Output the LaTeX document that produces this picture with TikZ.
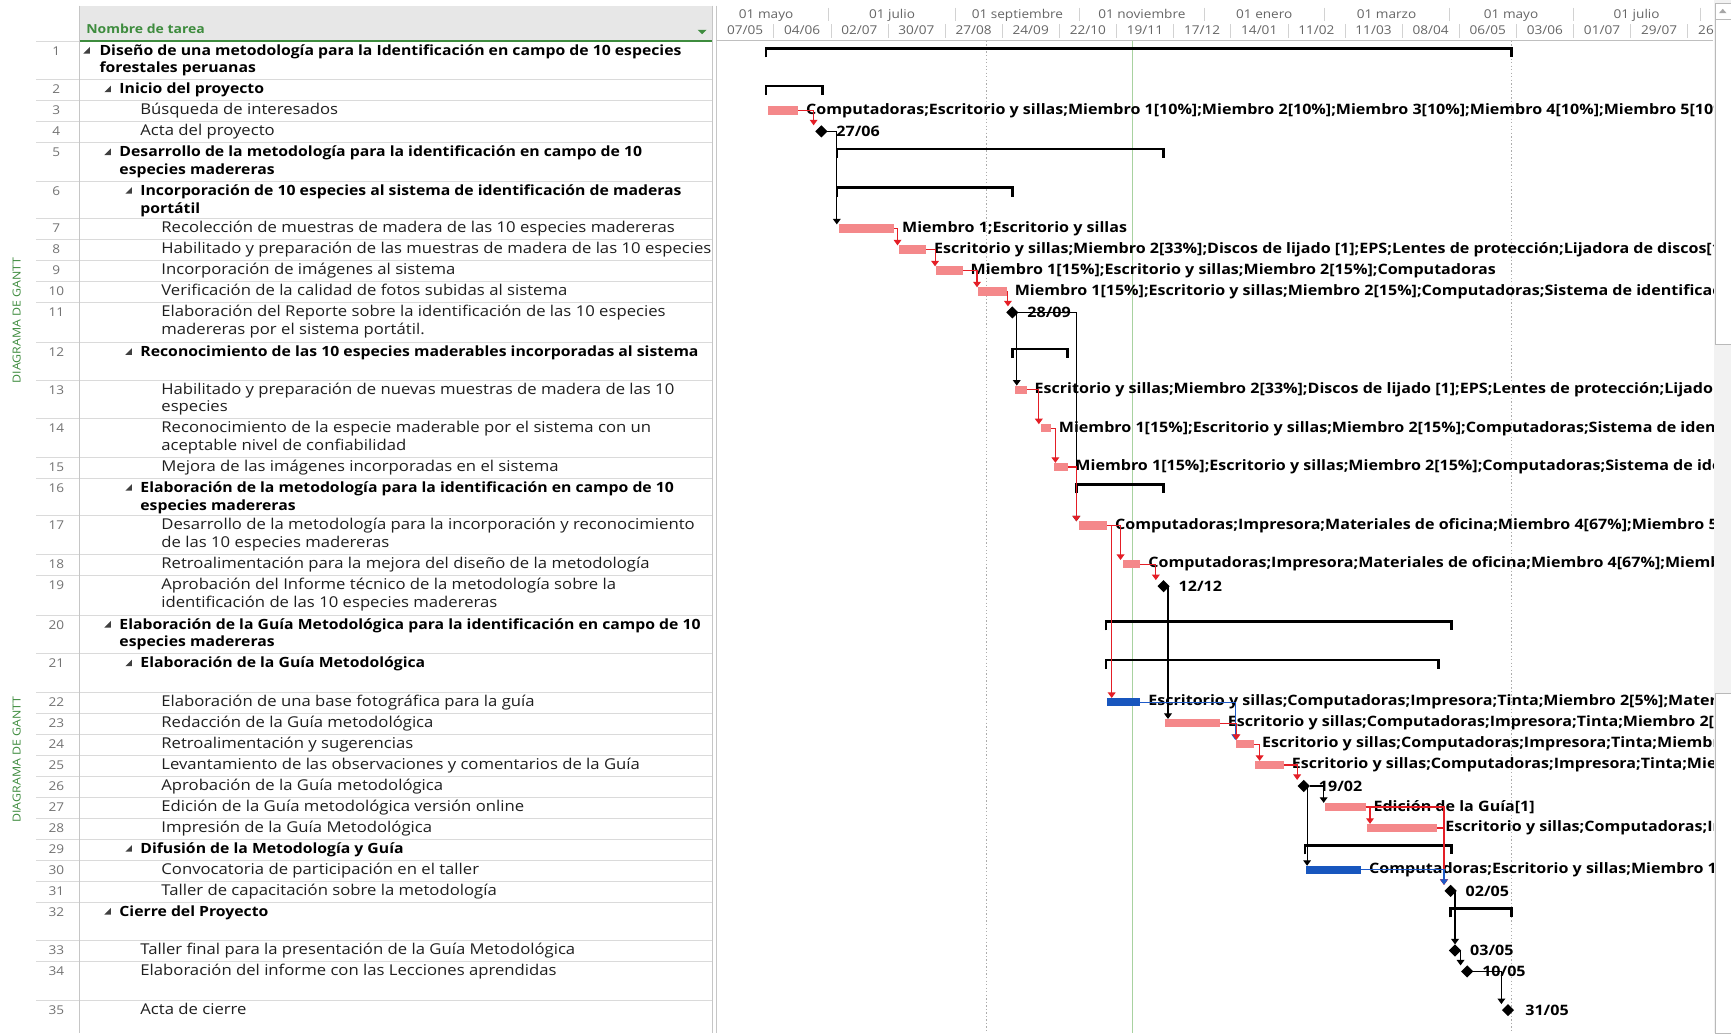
\documentclass[tikz,border=0pt]{standalone}
\usepackage{fontspec}
\setmainfont{Open Sans}[FakeStretch=1.12]
\usetikzlibrary{shapes.geometric,arrows.meta,positioning}
\definecolor{barpink}{RGB}{244,136,138}
\definecolor{barblue}{RGB}{24,86,190}
\definecolor{linkred}{RGB}{228,30,38}
\definecolor{linkblue}{RGB}{30,90,200}
\definecolor{gridgray}{RGB}{218,218,218}
\definecolor{hdrgray}{RGB}{231,231,231}
\definecolor{msgreen}{RGB}{62,140,62}
\definecolor{todaygreen}{RGB}{168,210,160}
\newcommand\two[2]{\vtop{\hbox{#1}\hbox{#2}}}
\newcommand\tri[2]{\fill[black!75] (#1-3.5,#2+2.5) -- (#1+2.5,#2+2.5) -- (#1+2.5,#2-3.5) -- cycle;}
\newcommand\brk[1]{\draw[brkline] ([yshift=-8pt]#1.north west) |- (#1.north east) -- ([yshift=-8pt]#1.north east);}
\begin{document}
\begin{tikzpicture}[x=1pt,y=-1pt,
  tbl/.style={font=\fontsize{13.5}{16}\selectfont, anchor=base west, inner sep=0, text=black!88},
  tblb/.style={font=\fontsize{12.75}{16}\selectfont\bfseries, anchor=base west, inner sep=0, text=black},
  num/.style={font=\fontsize{11}{13}\selectfont, text=black!55, anchor=base, inner sep=0},
  hdr/.style={font=\fontsize{11}{13}\selectfont, text=black!60, anchor=base, inner sep=0},
  bar/.style={fill=barpink, minimum height=7.5pt, inner sep=0, outer sep=0, anchor=west},
  bbar/.style={bar, fill=barblue},
  ms/.style={diamond, fill=black, inner sep=0, outer sep=0, minimum width=11pt, minimum height=11pt},
  glbl/.style={font=\fontsize{13}{14}\selectfont\bfseries, inner sep=0, text=black},
  sumn/.style={inner sep=0, outer sep=0, minimum height=0pt, anchor=north west},
  brkline/.style={draw=black, line width=2.3pt},
  rlink/.style={draw=linkred, line width=1pt, -{Triangle[width=7pt,length=5pt]}},
  klink/.style={draw=black, line width=1pt, -{Triangle[width=7pt,length=5pt]}},
  blink/.style={draw=linkblue, line width=1pt, -{Triangle[width=7pt,length=5pt]}}
]
\useasboundingbox (0,0) rectangle (1568,936);
\fill[white] (0,0) rectangle (1568,936);

% ---------- table header ----------
\fill[hdrgray] (72,5) rectangle (645,36);
\node[font=\fontsize{11.3}{13}\selectfont\bfseries, text=msgreen, anchor=base west, inner sep=0] (hname) at (78,30) {Nombre de tarea};
\fill[msgreen] (632,27) -- (640,27) -- (636,31) -- cycle;

% ---------- grid ----------
\foreach \n/\t in {1/37,2/72,3/91,4/110,5/129,6/164,7/198,8/217,9/236,10/255,11/274,12/310,13/344,14/379,15/414,16/433,17/467,18/502,19/521,20/557,21/592,22/627,23/646,24/665,25/684,26/703,27/722,28/741,29/760,30/779,31/798,32/817,33/852,34/871,35/906} {
  \draw[gridgray] (33,\t) -- (645,\t);
  \node[num] (n\n) at (51,\t+13) {\n};
}
\draw[msgreen, line width=1.5pt] (72,37) -- (645,37);
\draw[gray!45] (72,5) -- (72,936);
\draw[gray!45] (645,5) -- (645,936);
\draw[gray!45] (649,5) -- (649,936);

% ---------- side labels ----------
\node[rotate=90, text=msgreen, font=\fontsize{10}{12}\selectfont, inner sep=0] (dg1) at (15,290) {DIAGRAMA DE GANTT};
\node[rotate=90, text=msgreen, font=\fontsize{10}{12}\selectfont, inner sep=0] (dg2) at (15,688) {DIAGRAMA DE GANTT};

% ---------- task names ----------
\tri{79}{46}\node[tblb] (r1) at (90,50) {\two{Diseño de una metodología para la Identificación en campo de 10 especies}{forestales peruanas}};
\tri{98}{81}\node[tblb] (r2) at (108,85) {Inicio del proyecto};
\node[tbl] (r3) at (127,104) {Búsqueda de interesados};
\node[tbl] (r4) at (127,123) {Acta del proyecto};
\tri{98}{138}\node[tblb] (r5) at (108,142) {\two{Desarrollo de la metodología para la identificación en campo de 10}{especies madereras}};
\tri{117}{173}\node[tblb] (r6) at (127,177) {\two{Incorporación de 10 especies al sistema de identificación de maderas}{portátil}};
\node[tbl] (r7) at (146,211) {Recolección de muestras de madera de las 10 especies madereras};
\node[tbl] (r8) at (146,230) {Habilitado y preparación de las muestras de madera de las 10 especies};
\node[tbl] (r9) at (146,249) {Incorporación de imágenes al sistema};
\node[tbl] (r10) at (146,268) {Verificación de la calidad de fotos subidas al sistema};
\node[tbl] (r11) at (146,287) {\two{Elaboración del Reporte sobre la identificación de las 10 especies}{madereras por el sistema portátil.}};
\tri{117}{319}\node[tblb] (r12) at (127,323) {Reconocimiento de las 10 especies maderables incorporadas al sistema};
\node[tbl] (r13) at (146,357) {\two{Habilitado y preparación de nuevas muestras de madera de las 10}{especies}};
\node[tbl] (r14) at (146,392) {\two{Reconocimiento de la especie maderable por el sistema con un}{aceptable nivel de confiabilidad}};
\node[tbl] (r15) at (146,427) {Mejora de las imágenes incorporadas en el sistema};
\tri{117}{442}\node[tblb] (r16) at (127,446) {\two{Elaboración de la metodología para la identificación en campo de 10}{especies madereras}};
\node[tbl] (r17) at (146,480) {\two{Desarrollo de la metodología para la incorporación y reconocimiento}{de las 10 especies madereras}};
\node[tbl] (r18) at (146,515) {Retroalimentación para la mejora del diseño de la metodología};
\node[tbl] (r19) at (146,534) {\two{Aprobación del Informe técnico de la metodología sobre la}{identificación de las 10 especies madereras}};
\tri{98}{566}\node[tblb] (r20) at (108,570) {\two{Elaboración de la Guía Metodológica para la identificación en campo de 10}{especies madereras}};
\tri{117}{601}\node[tblb] (r21) at (127,605) {Elaboración de la Guía Metodológica};
\node[tbl] (r22) at (146,640) {Elaboración de una base fotográfica para la guía};
\node[tbl] (r23) at (146,659) {Redacción de la Guía metodológica};
\node[tbl] (r24) at (146,678) {Retroalimentación y sugerencias};
\node[tbl] (r25) at (146,697) {Levantamiento de las observaciones y comentarios de la Guía};
\node[tbl] (r26) at (146,716) {Aprobación de la Guía metodológica};
\node[tbl] (r27) at (146,735) {Edición de la Guía metodológica versión online};
\node[tbl] (r28) at (146,754) {Impresión de la Guía Metodológica};
\tri{117}{769}\node[tblb] (r29) at (127,773) {Difusión de la Metodología y Guía};
\node[tbl] (r30) at (146,792) {Convocatoria de participación en el taller};
\node[tbl] (r31) at (146,811) {Taller de capacitación sobre la metodología};
\tri{98}{826}\node[tblb] (r32) at (108,830) {Cierre del Proyecto};
\node[tbl] (r33) at (127,865) {Taller final para la presentación de la Guía Metodológica};
\node[tbl] (r34) at (127,884) {Elaboración del informe con las Lecciones aprendidas};
\node[tbl] (r35) at (127,919) {Acta de cierre};

% ---------- timescale ----------
\draw[gray!50] (649,36) -- (1552,36);
\begin{scope}
\clip (649,0) rectangle (1552,36);
\foreach \x in {750.6,865.2,978,1090.7,1199.7,1312.4,1425.2,1539.7}
  \draw[gray!35] (\x,7) -- (\x,19);
\foreach \k in {1,...,17}
  \draw[gray!35] ({649+\k*51.75},22) -- ({649+\k*51.75},34);
\foreach \x/\m in {694/01 mayo,808/01 julio,921.6/01 septiembre,1034.3/01 noviembre,1145.2/01 enero,1256/01 marzo,1368.8/01 mayo,1482.5/01 julio}
  \node[hdr] at (\x,17) {\m};
\foreach \d [count=\k from 0] in {07/05,04/06,02/07,30/07,27/08,24/09,22/10,19/11,17/12,14/01,11/02,11/03,08/04,06/05,03/06,01/07,29/07,26/08}
  \node[hdr] at ({674.9+\k*51.75},31) {\d};
\end{scope}

% ---------- guide lines ----------
\draw[gray!65, dash pattern=on 1.2pt off 2pt] (893,37) -- (893,936);
\draw[gray!65, dash pattern=on 1.2pt off 2pt] (1369,37) -- (1369,936);
\draw[todaygreen, line width=1pt] (1026,37) -- (1026,936);

% ---------- summaries ----------
\node[sumn, minimum width=675pt] (s1) at (694,44) {};
\node[sumn, minimum width=51pt] (s2) at (694,78) {};
\node[sumn, minimum width=296pt] (s5) at (758,135) {};
\node[sumn, minimum width=159pt] (s6) at (758,170) {};
\node[sumn, minimum width=50pt] (s12) at (917,316) {};
\node[sumn, minimum width=79pt] (s16) at (975,439) {};
\node[sumn, minimum width=313pt] (s20) at (1002,563) {};
\node[sumn, minimum width=301pt] (s21) at (1002,598) {};
\node[sumn, minimum width=133pt] (s29) at (1182,766) {};
\node[sumn, minimum width=55pt] (s32) at (1314,823) {};
\brk{s1}\brk{s2}\brk{s5}\brk{s6}\brk{s12}\brk{s16}\brk{s20}\brk{s21}\brk{s29}\brk{s32}

% ---------- tasks ----------
\node[bar, minimum width=27pt] (t3) at (696,100) {};
\node[bar, minimum width=50pt] (t7) at (760,207) {};
\node[bar, minimum width=25pt] (t8) at (814,226) {};
\node[bar, minimum width=24pt] (t9) at (848,245) {};
\node[bar, minimum width=26pt] (t10) at (886,264) {};
\node[bar, minimum width=11pt] (t13) at (919,353) {};
\node[bar, minimum width=9pt] (t14) at (943,388) {};
\node[bar, minimum width=12pt] (t15) at (955,423) {};
\node[bar, minimum width=26pt] (t17) at (977,476) {};
\node[bar, minimum width=16pt] (t18) at (1017,511) {};
\node[bbar, minimum width=30pt] (t22) at (1003,636) {};
\node[bar, minimum width=50pt] (t23) at (1055,655) {};
\node[bar, minimum width=16pt] (t24) at (1120,674) {};
\node[bar, minimum width=26pt] (t25) at (1137,693) {};
\node[bar, minimum width=37pt] (t27) at (1200,731) {};
\node[bar, minimum width=64pt] (t28) at (1238,750) {};
\node[bbar, minimum width=50pt] (t30) at (1183,788) {};

% ---------- milestones ----------
\node[ms] (m4) at (744,119) {};
\node[ms] (m11) at (917,283) {};
\node[ms] (m19) at (1054,531) {};
\node[ms] (m26) at (1181,712) {};
\node[ms] (m31) at (1314,807) {};
\node[ms] (m33) at (1318,861) {};
\node[ms] (m34) at (1329,880) {};
\node[ms] (m35) at (1366,915) {};

% ---------- labels ----------
\begin{scope}
\clip (650,37) rectangle (1552,936);
\node[glbl, right=7pt of t3] (l3) {Computadoras;Escritorio y sillas;Miembro 1[10\%];Miembro 2[10\%];Miembro 3[10\%];Miembro 4[10\%];Miembro 5[10\%]};
\node[glbl, right=7pt of t7] (l7) {Miembro 1;Escritorio y sillas};
\node[glbl, right=7pt of t8] (l8) {Escritorio y sillas;Miembro 2[33\%];Discos de lijado [1];EPS;Lentes de protección;Lijadora de discos[1]};
\node[glbl, right=7pt of t9] (l9) {Miembro 1[15\%];Escritorio y sillas;Miembro 2[15\%];Computadoras};
\node[glbl, right=7pt of t10] (l10) {Miembro 1[15\%];Escritorio y sillas;Miembro 2[15\%];Computadoras;Sistema de identificación};
\node[glbl, right=7pt of t13] (l13) {Escritorio y sillas;Miembro 2[33\%];Discos de lijado [1];EPS;Lentes de protección;Lijadora de discos[1]};
\node[glbl, right=7pt of t14] (l14) {Miembro 1[15\%];Escritorio y sillas;Miembro 2[15\%];Computadoras;Sistema de identificación};
\node[glbl, right=7pt of t15] (l15) {Miembro 1[15\%];Escritorio y sillas;Miembro 2[15\%];Computadoras;Sistema de identificación};
\node[glbl, right=7pt of t17] (l17) {Computadoras;Impresora;Materiales de oficina;Miembro 4[67\%];Miembro 5[67\%]};
\node[glbl, right=7pt of t18] (l18) {Computadoras;Impresora;Materiales de oficina;Miembro 4[67\%];Miembro 5[67\%]};
\node[glbl, right=7pt of t22] (l22) {Escritorio y sillas;Computadoras;Impresora;Tinta;Miembro 2[5\%];Materiales de oficina};
\node[glbl, right=7pt of t23] (l23) {Escritorio y sillas;Computadoras;Impresora;Tinta;Miembro 2[5\%];Materiales de oficina};
\node[glbl, right=7pt of t24] (l24) {Escritorio y sillas;Computadoras;Impresora;Tinta;Miembro 2[5\%];Materiales de oficina};
\node[glbl, right=7pt of t25] (l25) {Escritorio y sillas;Computadoras;Impresora;Tinta;Miembro 2[5\%];Materiales de oficina};
\node[glbl, right=7pt of t27] (l27) {Edición de la Guía[1]};
\node[glbl, right=7pt of t28] (l28) {Escritorio y sillas;Computadoras;Impresora;Tinta};
\node[glbl, right=7pt of t30] (l30) {Computadoras;Escritorio y sillas;Miembro 1[10\%]};
\node[glbl, right=8pt of m4] (lm4) {27/06};
\node[glbl, right=8pt of m11] (lm11) {28/09};
\node[glbl, right=8pt of m19] (lm19) {12/12};
\node[glbl, right=8pt of m26] (lm26) {19/02};
\node[glbl, right=8pt of m31] (lm31) {02/05};
\node[glbl, right=8pt of m33] (lm33) {03/05};
\node[glbl, right=8pt of m34] (lm34) {10/05};
\node[glbl, right=10pt of m35] (lm35) {31/05};
\end{scope}

% ---------- links ----------
\draw[rlink] (t3.east) -| ([xshift=-7pt]m4.north);
\draw[klink] (m4.east) -| ([xshift=-2pt]t7.north west);
\draw[rlink] (t7.east) -| ([xshift=-1pt]t8.north west);
\draw[rlink] (t8.east) -| ([xshift=-1pt]t9.north west);
\draw[rlink] (t9.east) -| ([xshift=-1pt]t10.north west);
\draw[rlink] (t10.east) -| ([xshift=-4pt]m11.north);
\draw[klink] (m11.center) -| ([xshift=2pt]t13.north west);
\draw[klink] (m11.east) -| ([xshift=-2pt]t17.north west);
\draw[rlink] (t13.east) -| ([xshift=-2pt]t14.north west);
\draw[rlink] (t14.east) -| ([xshift=1pt]t15.north west);
\draw[rlink] (t15.east) -| ([xshift=-2pt]t17.north west);
\draw[rlink] (t17.east) -| ([xshift=-2pt]t18.north west);
\draw[rlink] (t18.east) -| ([xshift=-7pt]m19.north);
\draw[rlink] (t17.east) -| ([xshift=4pt]t22.north west);
\draw[klink] (m19.center) -| ([xshift=3pt]t23.north west);
\draw[blink] (t22.east) -| ([xshift=-1pt]t24.north west);
\draw[rlink] (t23.east) -| ([xshift=0pt]t24.north west);
\draw[rlink] (t24.east) -| ([xshift=4pt]t25.north west);
\draw[rlink] (t25.east) -| ([xshift=-6pt]m26.north);
\draw[klink] (m26.east) -| ([xshift=-1pt]t27.north west);
\draw[klink] (m26.center) -| ([xshift=1pt]t30.north west);
\draw[rlink] (t27.east) -| ([xshift=3pt]t28.north west);
\draw[rlink] (t27.east) -| ([xshift=-6pt]m31.north);
\draw[rlink] (t28.east) -| ([xshift=-6pt]m31.north);
\draw[blink] (t30.east) -| ([xshift=-6pt]m31.north);
\draw[klink] (m31.center) -| (m33.north);
\draw[klink] (m33.center) -| ([xshift=-6pt]m34.north);
\draw[klink] (m34.east) -| ([xshift=-6pt]m35.north);

% ---------- scrollbar ----------
\fill[gray!10] (1553,0) rectangle (1568,936);
\draw[gray!55, fill=white] (1553.5,3) rectangle (1568,312);
\draw[gray!55] (1553.5,17) -- (1568,17);
\fill[gray!70] (1557,12) -- (1564,12) -- (1560.5,8) -- cycle;
\draw[gray!55, fill=white] (1553.5,628) rectangle (1568,936);
\end{tikzpicture}
\end{document}
